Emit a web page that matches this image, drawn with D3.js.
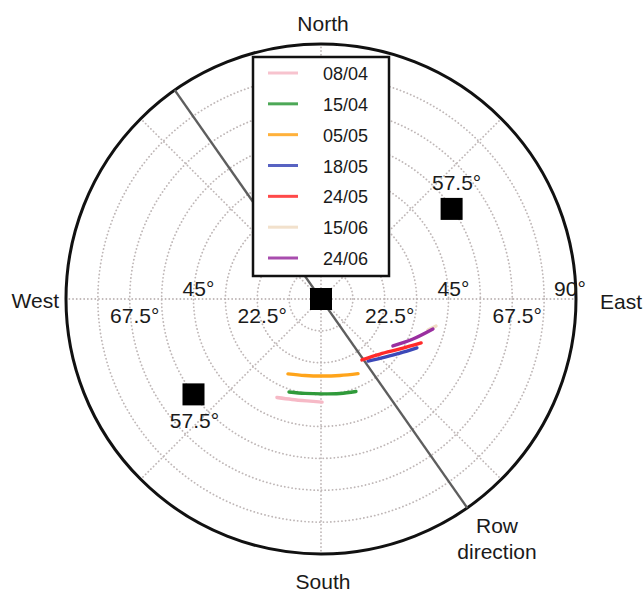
<!DOCTYPE html>
<html>
<head>
<meta charset="utf-8">
<script src="https://cdn.jsdelivr.net/npm/d3@7/dist/d3.min.js"></script>
<style>
  html, body { margin: 0; padding: 0; background: #fff; }
  svg { display: block; font-family: "Liberation Sans", Arial, Helvetica, sans-serif; }
</style>
</head>
<body>
<svg id="chart" width="644" height="594"></svg>
<script>
// ---- data ----
const dates = ["08/04", "15/04", "05/05", "18/05", "24/05", "15/06", "24/06"];
const colors = ["#f6b9c6", "#2f9a3a", "#ffa41a", "#3c48b8", "#ff2a2a", "#f0dcc4", "#9a2fa0"];
// traces: [azimuth (deg from North, clockwise), zenith angle (deg)]
const trace0804 = [[204.1, 38.1], [196.1, 36.9], [187.8, 36.3], [179.4, 36.4]];
const trace1504 = [[199.0, 34.7], [189.6, 33.8], [179.4, 33.5], [168.6, 34.0], [159.3, 34.9]];
const trace0505 = [[203.8, 28.9], [191.8, 27.6], [179.3, 27.2], [166.1, 27.8], [153.6, 29.4]];
const trace1805 = [[142.8, 27.5], [132.2, 30.5], [124.4, 33.8], [117.0, 38.0]];
const trace2405 = [[146.1, 25.9], [133.0, 28.5], [122.3, 33.0], [113.7, 38.6]];
const trace1506 = [[106.2, 39.3], [103.2, 41.7]];
const trace2406 = [[123.1, 30.3], [113.5, 35.4], [105.0, 40.9]];
const traces = [trace0804, trace1504, trace0505, trace1805, trace2405, trace1506, trace2406];

// black square markers: [azimuth, zenith]
const markers = [[0, 0], [55.4, 56.0], [233.2, 56.2]];
const markerLabels = ["", "57.5°", "57.5°"];

const rowDirectionAz = 145;          // row direction azimuth (deg)
const ringStep = 11.25;              // dotted rings every 11.25°
const spokeAngles = [0, 45, 90, 135, 180, 225, 270, 315];
const radialTicks = [22.5, 45, 67.5, 90];
const radialTickLabels = ["22.5°", "45°", "67.5°", "90°"];
const compass = ["North", "East", "South", "West"];

// ---- layout ----
const svg = d3.select("#chart");
const cx = 321, cy = 299, R = 255;
const r = d3.scaleLinear().domain([0, 90]).range([0, R]);
const rad = d => d * Math.PI / 180;
const px = (az, z) => cx + r(z) * Math.sin(rad(az));
const py = (az, z) => cy - r(z) * Math.cos(rad(az));

const g = svg.append("g");
const gridColor = "#bfb7b7";

// dotted rings
const rings = d3.range(ringStep, 90, ringStep);
g.selectAll("circle.ring").data(rings).join("circle")
  .attr("class", "ring")
  .attr("cx", cx).attr("cy", cy).attr("r", d => r(d))
  .attr("fill", "none").attr("stroke", gridColor)
  .attr("stroke-width", 1.8).attr("stroke-dasharray", "0.1,3.6")
  .attr("stroke-linecap", "round");

// dotted spokes
g.selectAll("line.spoke").data(spokeAngles).join("line")
  .attr("class", "spoke")
  .attr("x1", cx).attr("y1", cy)
  .attr("x2", d => px(d, 90)).attr("y2", d => py(d, 90))
  .attr("stroke", gridColor).attr("stroke-width", 1.8)
  .attr("stroke-dasharray", "0.1,3.6").attr("stroke-linecap", "round");

// outer circle
g.append("circle").attr("cx", cx).attr("cy", cy).attr("r", r(90))
  .attr("fill", "none").attr("stroke", "#111").attr("stroke-width", 3);

// row direction line
g.append("line")
  .attr("x1", px(rowDirectionAz + 180, 90)).attr("y1", py(rowDirectionAz + 180, 90))
  .attr("x2", px(rowDirectionAz, 90)).attr("y2", py(rowDirectionAz, 90))
  .attr("stroke", "#5e5e5e").attr("stroke-width", 2.4);

// traces
const line = d3.lineRadial()
  .angle(d => rad(d[0]))
  .radius(d => r(d[1]))
  .curve(d3.curveCatmullRom);
g.append("g").attr("transform", `translate(${cx},${cy})`)
  .selectAll("path").data(traces).join("path")
  .attr("d", line)
  .attr("fill", "none")
  .attr("stroke", (d, i) => colors[i])
  .attr("stroke-width", 3.4)
  .attr("stroke-linecap", "round");

// markers
const sq = 22;
g.selectAll("rect.marker").data(markers).join("rect")
  .attr("class", "marker")
  .attr("x", d => px(d[0], d[1]) - sq / 2)
  .attr("y", d => py(d[0], d[1]) - sq / 2)
  .attr("width", sq).attr("height", sq)
  .attr("fill", "#000");
g.selectAll("text.mlabel").data(markers).join("text")
  .attr("class", "mlabel")
  .attr("x", d => px(d[0], d[1]) + (d[1] > 0 && d[0] < 180 ? 5 : 1))
  .attr("y", d => d[0] < 180 ? py(d[0], d[1]) - 19 : py(d[0], d[1]) + 34)
  .attr("text-anchor", "middle").attr("font-size", 21).attr("fill", "#1a1a1a")
  .text((d, i) => markerLabels[i]);

// radial tick labels (both sides)
const tickData = [];
radialTicks.forEach((v, i) => {
  [1, -1].forEach(side => {
    if (v === 90 && side === -1) return;
    tickData.push({ v, side, label: radialTickLabels[i], up: i % 2 === 1 });
  });
});
g.selectAll("text.tick").data(tickData).join("text")
  .attr("class", "tick")
  .attr("x", d => cx + d.side * r(d.v) + (d.v === 90 ? -6 : 5))
  .attr("y", d => d.up ? cy - 3 : cy + 24)
  .attr("text-anchor", "middle").attr("font-size", 21).attr("fill", "#1a1a1a")
  .text(d => d.label);

// compass labels
svg.append("text").attr("x", 323).attr("y", 31).attr("text-anchor", "middle")
  .attr("font-size", 21).attr("fill", "#1a1a1a").text(compass[0]);
svg.append("text").attr("x", 600).attr("y", 309).attr("text-anchor", "start")
  .attr("font-size", 21).attr("fill", "#1a1a1a").text(compass[1]);
svg.append("text").attr("x", 323).attr("y", 589).attr("text-anchor", "middle")
  .attr("font-size", 21).attr("fill", "#1a1a1a").text(compass[2]);
svg.append("text").attr("x", 59).attr("y", 308).attr("text-anchor", "end")
  .attr("font-size", 21).attr("fill", "#1a1a1a").text(compass[3]);

// row direction label
const rowLbl = svg.append("text").attr("text-anchor", "middle")
  .attr("font-size", 21).attr("fill", "#1a1a1a");
rowLbl.append("tspan").attr("x", 497).attr("y", 533).text("Row");
rowLbl.append("tspan").attr("x", 497).attr("y", 559).text("direction");

// legend
const lg = svg.append("g");
lg.append("rect").attr("x", 253).attr("y", 57).attr("width", 136).attr("height", 219)
  .attr("fill", "#fff").attr("stroke", "#111").attr("stroke-width", 2.5);
const ly = d3.scaleLinear().domain([0, dates.length - 1]).range([73, 258]);
const items = lg.selectAll("g.item").data(dates).join("g").attr("class", "item");
items.append("line")
  .attr("x1", 268).attr("x2", 298)
  .attr("y1", (d, i) => ly(i)).attr("y2", (d, i) => ly(i))
  .attr("stroke", (d, i) => colors[i]).attr("stroke-width", 3).attr("opacity", 0.85);
items.append("text")
  .attr("x", 323).attr("y", (d, i) => ly(i) + 7)
  .attr("font-size", 18).attr("fill", "#1a1a1a")
  .text(d => d);
</script>
</body>
</html>
